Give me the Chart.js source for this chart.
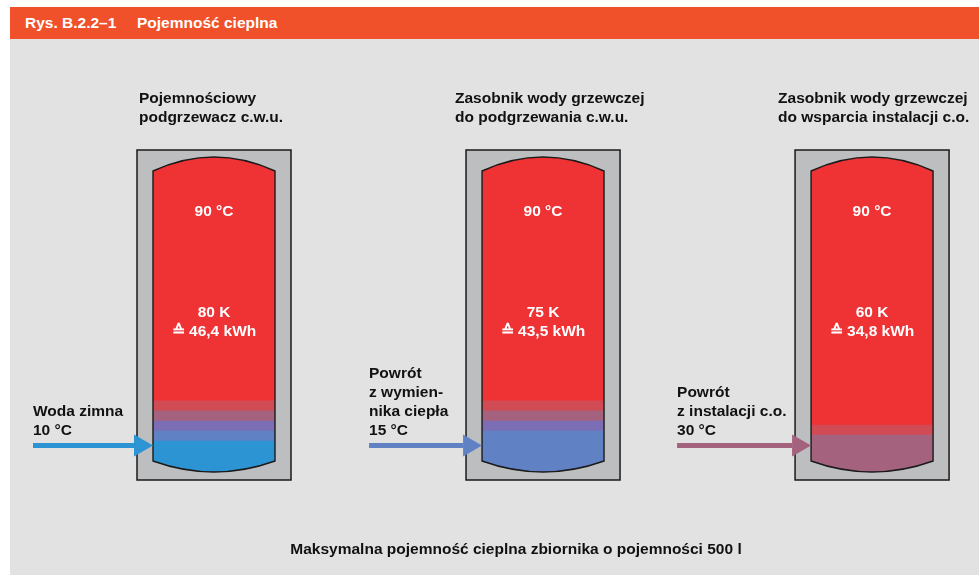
<!DOCTYPE html>
<html><head><meta charset="utf-8">
<script src="https://cdn.jsdelivr.net/npm/chart.js@4.4.1/dist/chart.umd.min.js"></script>
<style>
html,body{margin:0;padding:0;background:#fff;width:979px;height:575px;overflow:hidden;}
#hdr{position:absolute;left:10px;top:7px;width:969px;height:32px;background:#F0502A;color:#fff;font:bold 15.5px "Liberation Sans",Arial,sans-serif;line-height:32px;}
#hdr span{position:absolute;top:0;}
#wrap{position:absolute;left:10px;top:39px;width:969px;height:536px;background:#E1E2E1;}
canvas{display:block;}
</style></head>
<body>
<div id="hdr"><span style="left:15px">Rys. B.2.2–1</span><span style="left:127px">Pojemność cieplna</span></div>
<div id="wrap"><canvas id="c" width="969" height="536"></canvas></div>
<script>
// ---- data ----
const tanks = [0, 1, 2];
const tankTitles = [
  ["Pojemnościowy", "podgrzewacz c.w.u."],
  ["Zasobnik wody grzewczej", "do podgrzewania c.w.u."],
  ["Zasobnik wody grzewczej", "do wsparcia instalacji c.o."]
];
const hotTemp = [90, 90, 90];          // °C
const deltaK = [80, 75, 60];           // K
const energyKWh = [46.4, 43.5, 34.8];  // kWh
const inletTemp = [10, 15, 30];        // °C
const inletLabels = [
  ["Woda zimna"],
  ["Powrót", "z wymien-", "nika ciepła"],
  ["Powrót", "z instalacji c.o."]
];
const caption = "Maksymalna pojemność cieplna zbiornika o pojemności 500 l";
// layer heights (% of tank height), bottom to top
const layerCold10 = [9.8, null, null];
const layer15 = [3.2, 13.0, null];
const layerMix1 = [3.2, 3.2, null];
const layer30 = [3.2, 3.2, 11.7];
const layerMix2 = [3.2, 3.2, 3.2];
const layerHot90 = [77.4, 77.4, 85.1];

// ---- styles ----
const FONT = 'bold 15.5px "Liberation Sans", Arial, sans-serif';
const colors = ['#2D94D3', '#6082C5', '#7B6EB4', '#A4627F', '#D14B55', '#EF3234'];
const inletColors = ['#2D94D3', '#6082C5', '#A4627F'];
const BAR_W = 122;

const layers = [layerCold10, layer15, layerMix1, layer30, layerMix2, layerHot90];
const datasets = layers.map((arr, i) => ({
  data: tanks.map((t, j) => ({x: t, y: arr[j]})),
  backgroundColor: colors[i],
  borderWidth: 0,
  barThickness: BAR_W
}));

function tankPath(ctx, cx, top, bottom) {
  const hw = BAR_W / 2, st = 14, sb = 11;
  ctx.moveTo(cx - hw, top + st);
  ctx.quadraticCurveTo(cx, top - st, cx + hw, top + st);
  ctx.lineTo(cx + hw, bottom - sb);
  ctx.quadraticCurveTo(cx, bottom + sb, cx - hw, bottom - sb);
  ctx.closePath();
}

const tankPlugin = {
  id: 'tanks',
  beforeDatasetsDraw(chart) {
    const ctx = chart.ctx, xs = chart.scales.x, ys = chart.scales.y;
    const top = ys.getPixelForValue(100), bottom = ys.getPixelForValue(0);
    tanks.forEach(t => {
      const cx = xs.getPixelForValue(t);
      ctx.save();
      ctx.fillStyle = '#BDBEC0';
      ctx.strokeStyle = '#1a1a1a';
      ctx.lineWidth = 1.5;
      ctx.beginPath();
      ctx.rect(cx - BAR_W / 2 - 16, top - 7, BAR_W + 32, bottom - top + 15);
      ctx.fill(); ctx.stroke();
      ctx.restore();
    });
    ctx.save();
    ctx.beginPath();
    tanks.forEach(t => tankPath(ctx, xs.getPixelForValue(t), top, bottom));
    ctx.clip();
  },
  afterDatasetsDraw(chart) {
    const ctx = chart.ctx, xs = chart.scales.x, ys = chart.scales.y;
    ctx.restore();
    const top = ys.getPixelForValue(100), bottom = ys.getPixelForValue(0);
    const titleDx = [-75, -88, -94];
    const labelDx = [-181, -174, -195];
    tanks.forEach((t, i) => {
      const cx = xs.getPixelForValue(t);
      ctx.save();
      ctx.strokeStyle = '#1a1a1a';
      ctx.lineWidth = 1.4;
      ctx.beginPath(); tankPath(ctx, cx, top, bottom); ctx.stroke();
      ctx.restore();
      ctx.save();
      ctx.font = FONT;
      ctx.fillStyle = '#111';
      ctx.textAlign = 'left';
      tankTitles[i].forEach((s, k) => ctx.fillText(s, cx + titleDx[i], top - 54 + k * 18.5));
      ctx.fillStyle = '#fff';
      ctx.textAlign = 'center';
      ctx.fillText(hotTemp[i] + ' °C', cx, top + 59);
      ctx.fillText(deltaK[i] + ' K', cx, top + 160);
      ctx.fillText('≙ ' + energyKWh[i].toFixed(1).replace('.', ',') + ' kWh', cx, top + 179);
      ctx.fillStyle = '#111';
      ctx.textAlign = 'left';
      const lines = inletLabels[i].concat([inletTemp[i] + ' °C']);
      const lx = cx + labelDx[i];
      const lastBase = bottom - 37;
      lines.forEach((s, k) => ctx.fillText(s, lx, lastBase - (lines.length - 1 - k) * 19));
      const tip = cx - BAR_W / 2, ay = bottom - 26.5;
      ctx.fillStyle = inletColors[i];
      ctx.fillRect(lx, ay - 2.5, tip - 19 - lx, 5);
      ctx.beginPath();
      ctx.moveTo(tip - 19, ay - 11);
      ctx.lineTo(tip, ay);
      ctx.lineTo(tip - 19, ay + 11);
      ctx.closePath();
      ctx.fill();
      ctx.restore();
    });
    ctx.save();
    ctx.font = FONT;
    ctx.fillStyle = '#111';
    ctx.textAlign = 'center';
    ctx.fillText(caption, 506, 515);
    ctx.restore();
  }
};

new Chart(document.getElementById('c'), {
  type: 'bar',
  data: { datasets },
  options: {
    responsive: false,
    animation: false,
    devicePixelRatio: 1,
    layout: { padding: { top: 118, bottom: 103, left: 0, right: 0 } },
    plugins: { legend: { display: false }, tooltip: { enabled: false }, title: { display: false } },
    scales: {
      x: { type: 'linear', min: -0.62, max: 2.325, offset: false, display: false, stacked: true },
      y: { min: 0, max: 100, display: false, stacked: true }
    }
  },
  plugins: [tankPlugin]
});
</script>
</body></html>
